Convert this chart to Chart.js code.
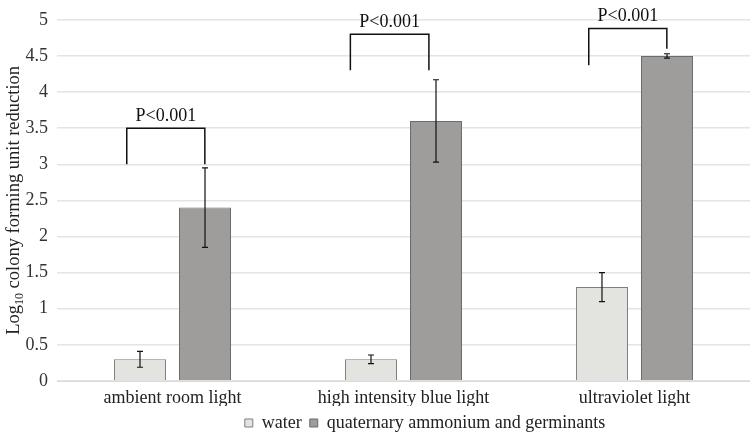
<!DOCTYPE html>
<html>
<head>
<meta charset="utf-8">
<script src="https://cdn.jsdelivr.net/npm/chart.js@4.4.1/dist/chart.umd.min.js"></script>
<style>
  html, body { margin: 0; padding: 0; background: #fff; }
  #wrap { width: 750px; height: 434px; position: relative; }
</style>
</head>
<body>
<div id="wrap"><canvas id="chart"></canvas></div>
<script>
const categories = ['ambient room light', 'high intensity blue light', 'ultraviolet light'];
const seriesNames = ['water', 'quaternary ammonium and germinants'];
const waterValues = [0.3, 0.3, 1.3];
const waterErrors = [0.11, 0.06, 0.2];
const quatValues = [2.4, 3.6, 4.5];
const quatErrors = [0.55, 0.57, 0.03];
const yTicks = [0, 0.5, 1, 1.5, 2, 2.5, 3, 3.5, 4, 4.5, 5];

// significance brackets: category, left/right leg as fraction of category width from centre, heights
const bracketCategory = [0, 1, 2];
const bracketLeft = [-0.198, -0.23, -0.198];
const bracketRight = [0.14, 0.11, 0.14];
const bracketTop = [3.5, 4.8, 4.88];
const bracketLeftFoot = [3.0, 4.3, 4.37];
const bracketRightFoot = [3.0, 4.3, 4.6];
const bracketLabel = ['P<0.001', 'P<0.001', 'P<0.001'];

const FONT = "'Liberation Serif', 'DejaVu Serif', serif";

const errorBars = {
    id: 'errorBars',
    afterDatasetsDraw(chart) {
        const ctx = chart.ctx;
        const y = chart.scales.y;
        const errs = [waterErrors, quatErrors];
        ctx.save();
        ctx.strokeStyle = '#111';
        ctx.lineWidth = 1.2;
        chart.data.datasets.forEach((ds, di) => {
            chart.getDatasetMeta(di).data.forEach((bar, i) => {
                const v = ds.data[i];
                const e = errs[di][i];
                const top = y.getPixelForValue(v + e);
                const bot = y.getPixelForValue(v - e);
                ctx.beginPath();
                ctx.moveTo(bar.x, top); ctx.lineTo(bar.x, bot);
                ctx.moveTo(bar.x - 3, top); ctx.lineTo(bar.x + 3, top);
                ctx.moveTo(bar.x - 3, bot); ctx.lineTo(bar.x + 3, bot);
                ctx.stroke();
            });
        });
        ctx.restore();
    }
};

const brackets = {
    id: 'brackets',
    afterDatasetsDraw(chart) {
        const ctx = chart.ctx;
        const x = chart.scales.x;
        const y = chart.scales.y;
        const catW = x.width / categories.length;
        ctx.save();
        ctx.strokeStyle = '#111';
        ctx.lineWidth = 1.5;
        ctx.fillStyle = '#111';
        ctx.font = '18px ' + FONT;
        ctx.textAlign = 'center';
        ctx.textBaseline = 'bottom';
        bracketCategory.forEach((c, i) => {
            const cx = x.getPixelForValue(c);
            const xl = cx + bracketLeft[i] * catW;
            const xr = cx + bracketRight[i] * catW;
            const yt = y.getPixelForValue(bracketTop[i]);
            ctx.beginPath();
            ctx.moveTo(xl, y.getPixelForValue(bracketLeftFoot[i]));
            ctx.lineTo(xl, yt);
            ctx.lineTo(xr, yt);
            ctx.lineTo(xr, y.getPixelForValue(bracketRightFoot[i]));
            ctx.stroke();
            ctx.fillText(bracketLabel[i], (xl + xr) / 2, yt - 3);
        });
        ctx.restore();
    }
};

const yTitle = {
    id: 'yTitle',
    afterDraw(chart) {
        const ctx = chart.ctx;
        const area = chart.chartArea;
        ctx.save();
        ctx.translate(13, (area.top + area.bottom) / 2);
        ctx.rotate(-Math.PI / 2);
        ctx.fillStyle = '#222';
        ctx.textBaseline = 'alphabetic';
        const main = '18.5px ' + FONT;
        const sub = '12px ' + FONT;
        const parts = [['Log', main, 0], ['10', sub, 4], [' colony forming unit reduction', main, 0]];
        let total = 0;
        parts.forEach(p => { ctx.font = p[1]; total += ctx.measureText(p[0]).width; });
        let pos = -total / 2;
        parts.forEach(p => {
            ctx.font = p[1];
            ctx.fillText(p[0], pos, 6 + p[2]);
            pos += ctx.measureText(p[0]).width;
        });
        ctx.restore();
    }
};

// the legend sits a little right of centre in the original
const legendShift = {
    id: 'legendShift',
    beforeDraw(chart) {
        if (chart.legend && !chart.legend._shifted) {
            chart.legend.left += 50;
            chart.legend.right += 50;
            chart.legend._shifted = true;
        }
    }
};

new Chart(document.getElementById('chart'), {
    type: 'bar',
    data: {
        labels: categories,
        datasets: [
            {
                label: seriesNames[0],
                data: waterValues,
                backgroundColor: '#e3e3e0',
                borderColor: '#7f7f7f',
                borderWidth: 1
            },
            {
                label: seriesNames[1],
                data: quatValues,
                backgroundColor: '#9e9d9b',
                borderColor: '#6b6b6b',
                borderWidth: 1
            }
        ]
    },
    options: {
        responsive: true,
        maintainAspectRatio: false,
        animation: false,
        datasets: { bar: { categoryPercentage: 0.563, barPercentage: 0.8 } },
        layout: { padding: { top: 9, right: 0, left: 0, bottom: -8 } },
        plugins: {
            legend: {
                position: 'bottom',
                labels: {
                    font: { family: FONT, size: 18 },
                    color: '#222',
                    boxWidth: 8,
                    boxHeight: 8,
                    padding: 8
                }
            },
            tooltip: { enabled: false }
        },
        scales: {
            x: {
                afterFit: (scale) => { scale.height = 25; },
                grid: { display: false, drawTicks: false },
                border: { color: '#d9d9d9' },
                ticks: { font: { family: FONT, size: 18 }, color: '#222', padding: 6 }
            },
            y: {
                min: 0,
                max: 5,
                afterFit: (scale) => { scale.width = 57; },
                afterBuildTicks: (scale) => { scale.ticks = yTicks.map(v => ({ value: v })); },
                grid: { color: '#e4e4e4', lineWidth: 1.5, drawTicks: false },
                border: { display: false },
                ticks: {
                    font: { family: FONT, size: 18 },
                    color: '#333',
                    padding: 9,
                    callback: (v) => String(v)
                }
            }
        }
    },
    plugins: [errorBars, brackets, yTitle, legendShift]
});
</script>
</body>
</html>
